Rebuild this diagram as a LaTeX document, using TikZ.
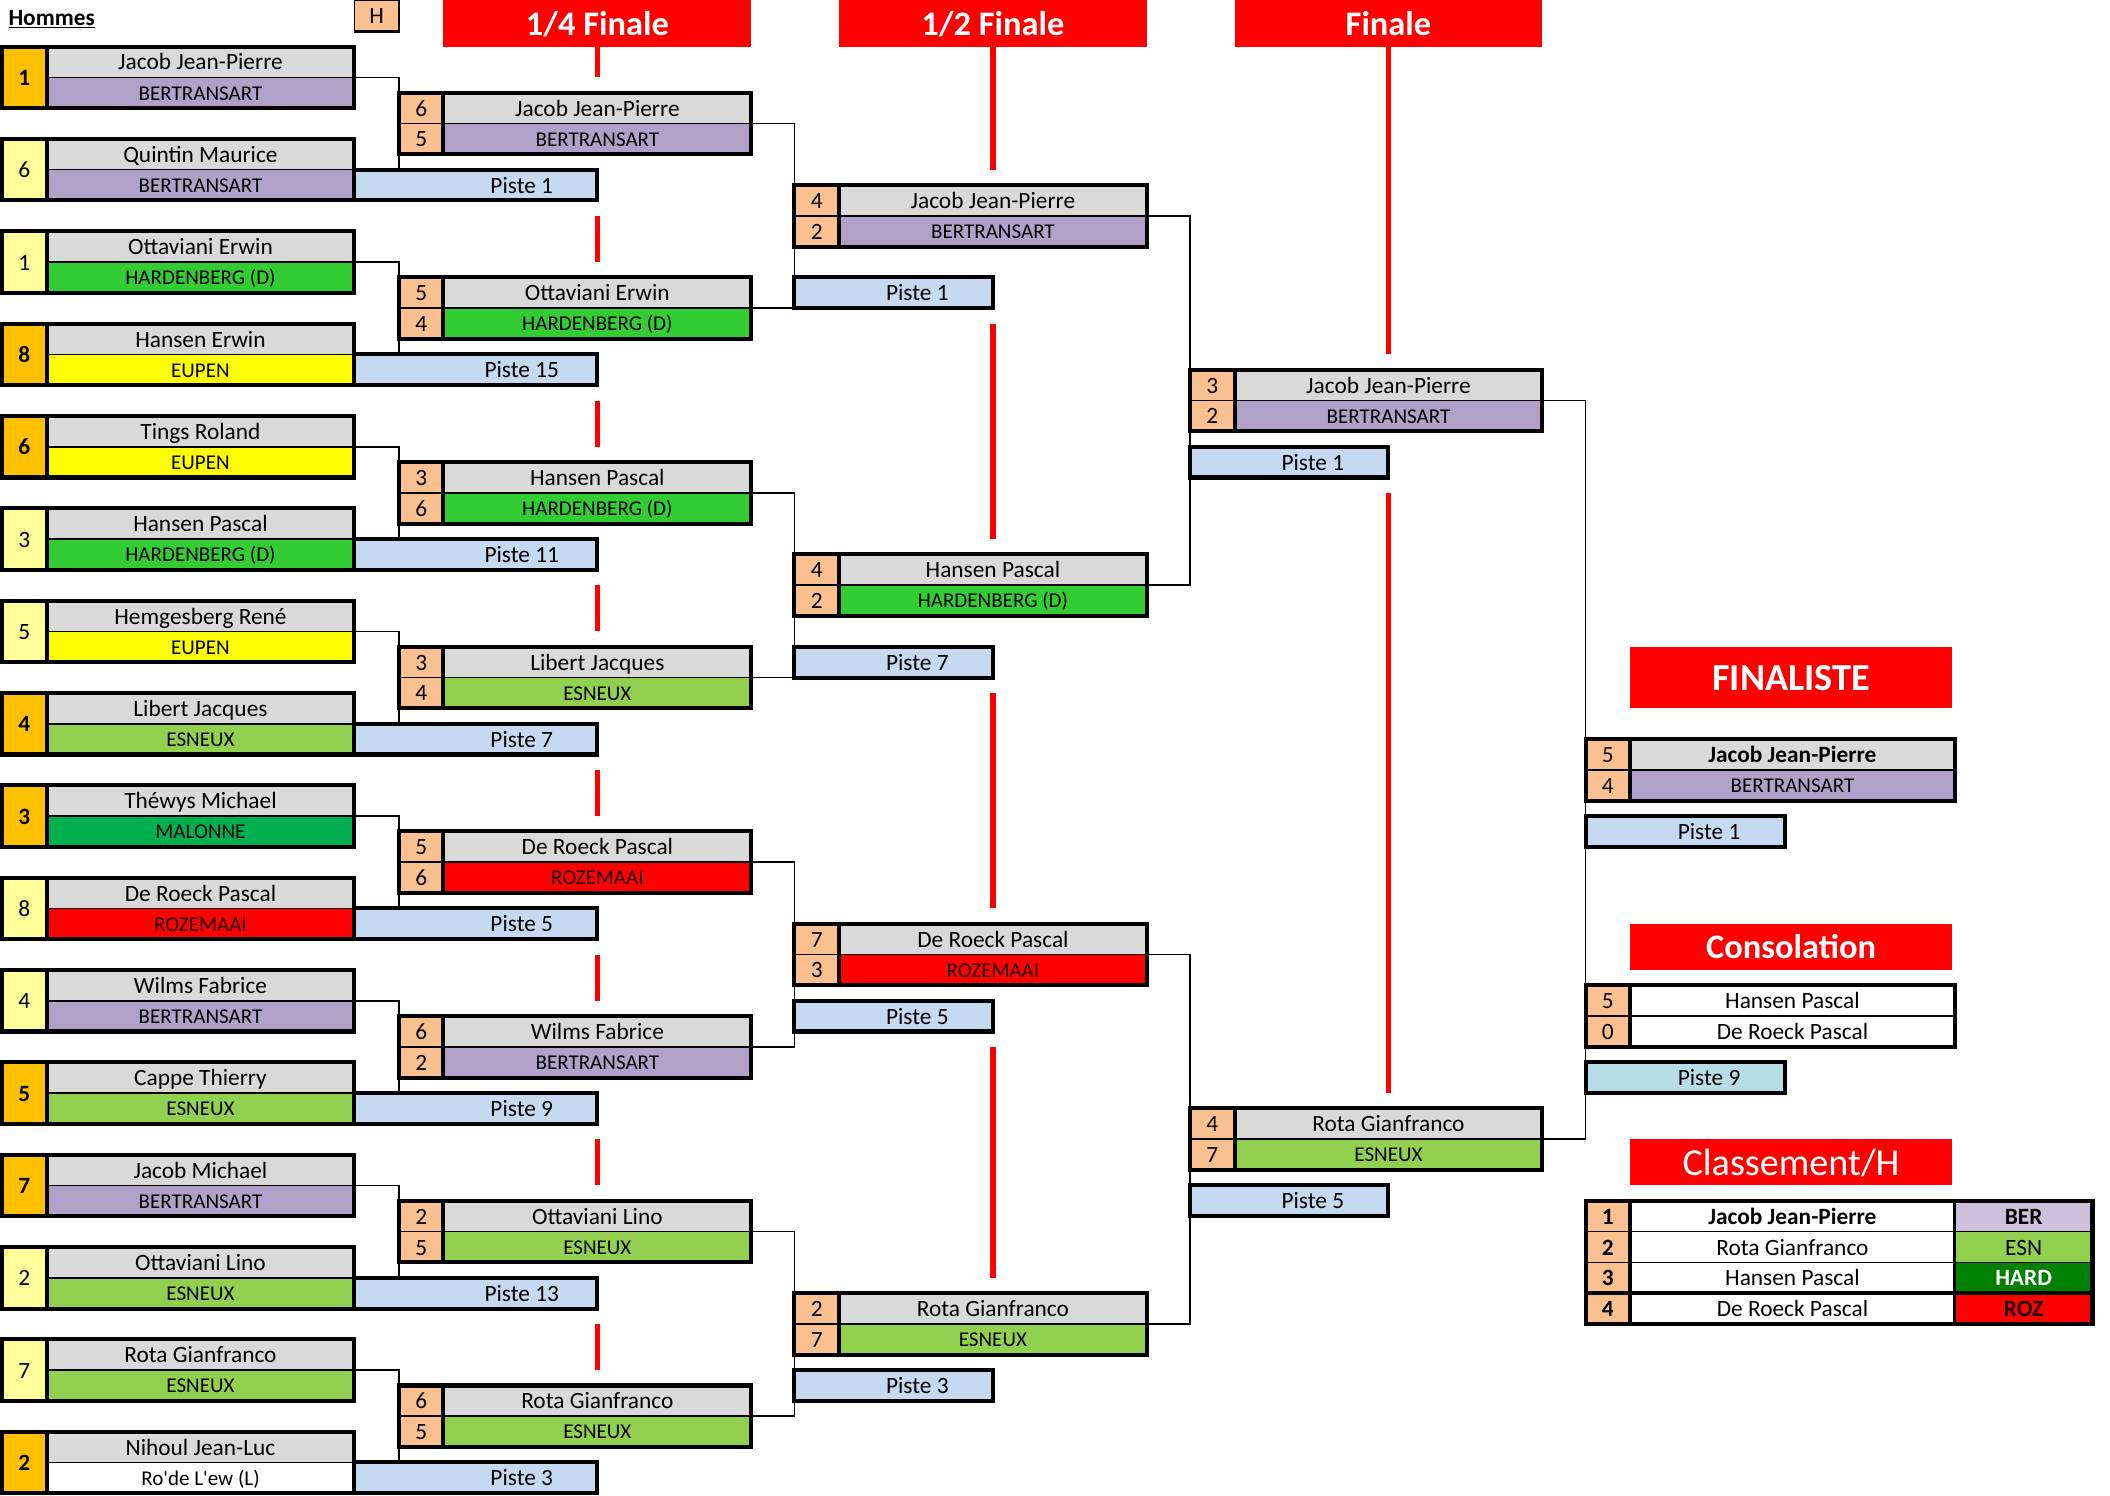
\documentclass[tikz,border=0pt]{standalone}
\usepackage{fontspec}
\setmainfont{Carlito}
\newfontfamily\rawfont{Carlito}
\usetikzlibrary{positioning, calc}
\definecolor{namegray}{HTML}{D9D9D9}
\definecolor{scorepeach}{HTML}{FAC090}
\definecolor{seedgold}{HTML}{FFC000}
\definecolor{seedpale}{HTML}{FFFF99}
\definecolor{pisteblue}{HTML}{C5D9F1}
\definecolor{pistecyan}{HTML}{B7DEE8}
\definecolor{berfill}{HTML}{B1A0C7}
\definecolor{hardfill}{HTML}{33CC33}
\definecolor{eupfill}{HTML}{FFFF00}
\definecolor{esnfill}{HTML}{92D050}
\definecolor{malfill}{HTML}{00B050}
\definecolor{rozfill}{HTML}{FF0000}
\definecolor{rozink}{HTML}{200000}
\definecolor{berlight}{HTML}{CCC0DA}
\definecolor{harddark}{HTML}{008000}
\definecolor{headred}{HTML}{FF0000}
\newcommand{\cellfont}{\fontsize{17.3}{20}\selectfont}
\newcommand{\clubfont}{\fontsize{15.6}{18}\selectfont}
\newcommand{\headfont}{\fontsize{25.5}{28}\selectfont\bfseries}
\newcommand{\bigheadfont}{\fontsize{28.3}{31}\selectfont\bfseries}
\newcommand{\rankheadfont}{\fontsize{28.3}{31}\selectfont}
\newcommand{\apos}{{\rawfont'}}
\tikzset{
  every picture/.style={line width=1.2pt},
  cell/.style={inner sep=0pt, outer sep=0pt, anchor=north west, minimum height=22.8pt, font=\cellfont, text height=12.1pt, text depth=0.2pt},
  namecell/.style={cell, fill=namegray, minimum width=228pt},
  clubcell/.style={cell, minimum width=228pt, font=\clubfont, text height=11pt},
  scorecell/.style={cell, fill=scorepeach, minimum width=33pt},
  seedcell/.style={cell, minimum width=33pt, minimum height=45.6pt},
  seedtop/.style={fill=seedgold, font=\cellfont\bfseries},
  seedlow/.style={fill=seedpale},
  pistecell/.style={cell, fill=pisteblue, draw, line width=3pt},
  pistetext/.style={inner sep=0pt, font=\cellfont, text height=12.1pt, text depth=0.2pt},
  headcell/.style={cell, fill=headred, text=white, minimum width=228pt, minimum height=34.2pt, font=\headfont, text height=17.4pt},
  boxrule/.style={line width=3pt},
  thinrule/.style={line width=1.2pt},
  midrule/.style={line width=2pt},
  link/.style={line width=1.2pt},
  redbar/.style={draw=headred, line width=4.2pt},
  ber/.style={fill=berfill},
  hard/.style={fill=hardfill},
  eup/.style={fill=eupfill},
  esn/.style={fill=esnfill},
  mal/.style={fill=malfill},
  roz/.style={fill=rozfill, text=rozink},
  rodew/.style={fill=white},
  plainrow/.style={fill=white, font=\cellfont, text height=12.1pt}
}
% one player of the first round: id, top row, seed style, seed, name, club style, club
\newcommand{\Entry}[7]{%
  \node[seedcell, #3] (#1s) at (1.5,#2) {#4};
  \node[namecell] (#1n) at (34.5,#2) {#5};
  \node[clubcell, #6] (#1c) at (34.5,#2+2) {#7};
  \draw[thinrule] (#1n.south west) -- (#1n.south east);
  \draw[boxrule] (#1s.north east) -- (#1s.south east);
  \draw[boxrule] (#1s.north west) rectangle (#1c.south east);
}
% one winner box: options, id, left x, top row, score 1, score 2, name, club style, club
\newcommand{\Match}[9][]{%
  \node[scorecell] (#2a) at (#3,#4) {#5};
  \node[scorecell] (#2b) at (#3,#4+2) {#6};
  \node[namecell, #1] (#2n) at (#3+33,#4) {#7};
  \node[clubcell, #8, #1] (#2c) at (#3+33,#4+2) {#9};
  \draw[thinrule] (#2a.south west) -- (#2n.south east);
  \draw[boxrule] (#2a.north east) -- (#2b.south east);
  \draw[boxrule] (#2a.north west) rectangle (#2c.south east);
}
% court box: options, id, left x, top row, width, label
\newcommand{\Piste}[6][]{%
  \node[pistecell, #1, minimum width=#5pt] (#2) at (#3,#4) {};
  \node[pistetext] (#2t) at ([xshift=-56pt]#2.east) {#6};
}
% ranking row: id, top row, rank, name, club style, club
\newcommand{\Rank}[6]{%
  \node[scorecell, font=\cellfont\bfseries] (#1a) at (1174.5,#2) {#3};
  \node[cell, fill=white, minimum width=240.5pt] (#1n) at (1207.5,#2) {#4};
  \node[cell, minimum width=102pt, #5] (#1c) at (1448,#2) {#6};
}
\begin{document}
\begin{tikzpicture}[x=1pt, y=-11.4pt]
  \useasboundingbox (0,-3.026) rectangle (1563,94.17);

  % title and round headers
  \node[anchor=base west, inner sep=0pt, font=\cellfont\bfseries] (hommes) at (5.7,-1.4) {\underline{Hommes}};
  \node[cell, fill=scorepeach, minimum width=33pt, draw, line width=1.2pt] (hbox) at (262.5,-3) {H};
  \draw[midrule] (hbox.north east) -- (hbox.south east) -- (hbox.south west);
  \node[headcell] (hq) at (328.5,-3) {1/4 Finale};
  \node[headcell] (hs) at (621.5,-3) {1/2 Finale};
  \node[headcell] (hf) at (914.5,-3) {Finale};

  % red guides
  \draw[redbar] (hq.south) -- (442.5,2);
  \draw[redbar] (442.5,11) -- (442.5,14);
  \draw[redbar] (442.5,23) -- (442.5,26);
  \draw[redbar] (442.5,35) -- (442.5,38);
  \draw[redbar] (442.5,47) -- (442.5,50);
  \draw[redbar] (442.5,59) -- (442.5,62);
  \draw[redbar] (442.5,71) -- (442.5,74);
  \draw[redbar] (442.5,83) -- (442.5,86);
  \draw[redbar] (hs.south) -- (735.5,8);
  \draw[redbar] (735.5,18) -- (735.5,32);
  \draw[redbar] (735.5,42) -- (735.5,56);
  \draw[redbar] (735.5,65) -- (735.5,80);
  \draw[redbar] (hf.south) -- (1028.5,20);
  \draw[redbar] (1028.5,29) -- (1028.5,68);

  % first round
  \Entry{e1}{0}{seedtop}{1}{Jacob Jean-Pierre}{ber}{BERTRANSART}
  \Entry{e2}{6}{seedlow}{6}{Quintin Maurice}{ber}{BERTRANSART}
  \Entry{e3}{12}{seedlow}{1}{Ottaviani Erwin}{hard}{HARDENBERG (D)}
  \Entry{e4}{18}{seedtop}{8}{Hansen Erwin}{eup}{EUPEN}
  \Entry{e5}{24}{seedtop}{6}{Tings Roland}{eup}{EUPEN}
  \Entry{e6}{30}{seedlow}{3}{Hansen Pascal}{hard}{HARDENBERG (D)}
  \Entry{e7}{36}{seedlow}{5}{Hemgesberg René}{eup}{EUPEN}
  \Entry{e8}{42}{seedtop}{4}{Libert Jacques}{esn}{ESNEUX}
  \Entry{e9}{48}{seedtop}{3}{Théwys Michael}{mal}{MALONNE}
  \Entry{e10}{54}{seedlow}{8}{De Roeck Pascal}{roz}{ROZEMAAI}
  \Entry{e11}{60}{seedlow}{4}{Wilms Fabrice}{ber}{BERTRANSART}
  \Entry{e12}{66}{seedtop}{5}{Cappe Thierry}{esn}{ESNEUX}
  \Entry{e13}{72}{seedtop}{7}{Jacob Michael}{ber}{BERTRANSART}
  \Entry{e14}{78}{seedlow}{2}{Ottaviani Lino}{esn}{ESNEUX}
  \Entry{e15}{84}{seedlow}{7}{Rota Gianfranco}{esn}{ESNEUX}
  \Entry{e16}{90}{seedtop}{2}{Nihoul Jean-Luc}{rodew}{Ro\apos de L\apos ew (L)}
  \Piste{p1}{262.5}{8}{180}{Piste 1}
  \Piste{p2}{262.5}{20}{180}{Piste 15}
  \Piste{p3}{262.5}{32}{180}{Piste 11}
  \Piste{p4}{262.5}{44}{180}{Piste 7}
  \Piste{p5}{262.5}{56}{180}{Piste 5}
  \Piste{p6}{262.5}{68}{180}{Piste 9}
  \Piste{p7}{262.5}{80}{180}{Piste 13}
  \Piste{p8}{262.5}{92}{180}{Piste 3}

  % quarter finals
  \Match{q1}{295.5}{3}{6}{5}{Jacob Jean-Pierre}{ber}{BERTRANSART}
  \Match{q2}{295.5}{15}{5}{4}{Ottaviani Erwin}{hard}{HARDENBERG (D)}
  \Match{q3}{295.5}{27}{3}{6}{Hansen Pascal}{hard}{HARDENBERG (D)}
  \Match{q4}{295.5}{39}{3}{4}{Libert Jacques}{esn}{ESNEUX}
  \Match{q5}{295.5}{51}{5}{6}{De Roeck Pascal}{roz}{ROZEMAAI}
  \Match{q6}{295.5}{63}{6}{2}{Wilms Fabrice}{ber}{BERTRANSART}
  \Match{q7}{295.5}{75}{2}{5}{Ottaviani Lino}{esn}{ESNEUX}
  \Match{q8}{295.5}{87}{6}{5}{Rota Gianfranco}{esn}{ESNEUX}

  % semi finals
  \Match{s1}{588.5}{9}{4}{2}{Jacob Jean-Pierre}{ber}{BERTRANSART}
  \Match{s2}{588.5}{33}{4}{2}{Hansen Pascal}{hard}{HARDENBERG (D)}
  \Match{s3}{588.5}{57}{7}{3}{De Roeck Pascal}{roz}{ROZEMAAI}
  \Match{s4}{588.5}{81}{2}{7}{Rota Gianfranco}{esn}{ESNEUX}
  \Piste{ps1}{588.5}{15}{147}{Piste 1}
  \Piste{ps2}{588.5}{39}{147}{Piste 7}
  \Piste{ps3}{588.5}{62}{147}{Piste 5}
  \Piste{ps4}{588.5}{86}{147}{Piste 3}

  % final
  \Match{f1}{881.5}{21}{3}{2}{Jacob Jean-Pierre}{ber}{BERTRANSART}
  \Match{f2}{881.5}{69}{4}{7}{Rota Gianfranco}{esn}{ESNEUX}
  \Piste{pf1}{881.5}{26}{147}{Piste 1}
  \Piste{pf2}{881.5}{74}{147}{Piste 5}

  % finalist, consolation and ranking
  \node[headcell, minimum width=238.5pt, minimum height=45.6pt, font=\bigheadfont, text height=19.2pt] (hw) at (1207.5,39) {FINALISTE};
  \Match[minimum width=240.5pt]{w}{1174.5}{45}{5}{4}{\bfseries Jacob Jean-Pierre}{ber}{BERTRANSART}
  \Piste{pw}{1174.5}{50}{147.5}{Piste 1}
  \node[headcell, minimum width=238.5pt] (hc) at (1207.5,57) {Consolation};
  \Match[minimum width=240.5pt, fill=white]{cons}{1174.5}{61}{5}{0}{Hansen Pascal}{plainrow}{De Roeck Pascal}
  \Piste[fill=pistecyan]{pc}{1174.5}{66}{147.5}{Piste 9}
  \node[headcell, minimum width=238.5pt, font=\rankheadfont, text height=19.2pt] (hr) at (1207.5,71) {Classement/H};
  \Rank{t1}{75}{1}{\bfseries Jacob Jean-Pierre}{fill=berlight, font=\cellfont\bfseries}{BER}
  \Rank{t2}{77}{2}{Rota Gianfranco}{fill=esnfill}{ESN}
  \Rank{t3}{79}{3}{Hansen Pascal}{fill=harddark, text=white, font=\cellfont\bfseries}{HARD}
  \Rank{t4}{81}{4}{De Roeck Pascal}{fill=rozfill, text=rozink, font=\cellfont\bfseries}{ROZ}
  \draw[thinrule] (t1a.south west) -- (t1c.south east);
  \draw[thinrule] (t2a.south west) -- (t2c.south east);
  \draw[boxrule] (t3a.south west) -- (t3c.south east);
  \draw[midrule] (t1n.north east) -- (t4n.south east);
  \draw[boxrule] (t1a.north east) -- (t4a.south east);
  \draw[boxrule] (t1a.north west) rectangle (t4c.south east);

  % bracket lines
  \draw[link] (e1n.south east) -| (p1.north -| q1a.west);
  \draw[link] (e3n.south east) -| (p2.north -| q2a.west);
  \draw[link] (e5n.south east) -| (p3.north -| q3a.west);
  \draw[link] (e7n.south east) -| (p4.north -| q4a.west);
  \draw[link] (e9n.south east) -| (p5.north -| q5a.west);
  \draw[link] (e11n.south east) -| (p6.north -| q6a.west);
  \draw[link] (e13n.south east) -| (p7.north -| q7a.west);
  \draw[link] (e15n.south east) -| (p8.north -| q8a.west);
  \draw[link] (q1n.south east) -| (q2n.south -| s1a.west) -- (q2n.south east);
  \draw[link] (q3n.south east) -| (q4n.south -| s2a.west) -- (q4n.south east);
  \draw[link] (q5n.south east) -| (q6n.south -| s3a.west) -- (q6n.south east);
  \draw[link] (q7n.south east) -| (q8n.south -| s4a.west) -- (q8n.south east);
  \draw[link] (s1n.south east) -| (s2n.south -| f1a.west) -- (s2n.south east);
  \draw[link] (s3n.south east) -| (s4n.south -| f2a.west) -- (s4n.south east);
  \draw[link] (f1n.south east) -| (f2n.south -| wa.west) -- (f2n.south east);
\end{tikzpicture}
\end{document}
